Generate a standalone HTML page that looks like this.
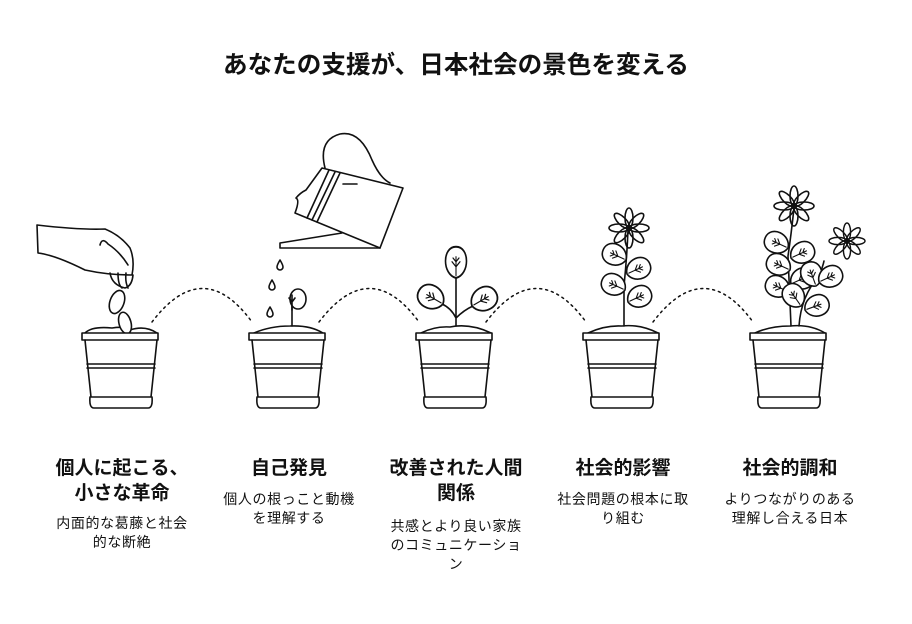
<!DOCTYPE html>
<html><head><meta charset="utf-8"><style>
body{margin:0;background:#fff;width:912px;height:624px;overflow:hidden;position:relative;font-family:"Liberation Sans","Noto Sans CJK JP",sans-serif;color:#111}
.t{position:absolute;width:200px;text-align:center;white-space:nowrap}
.h{font-weight:bold;font-size:19px;line-height:25px}
.d{font-size:14px;letter-spacing:0.6px;line-height:19px}
</style></head><body>
<div class="t" style="left:156px;width:600px;top:50px;font-size:24.6px;font-weight:bold;line-height:32px">あなたの支援が、日本社会の景色を変える</div>
<svg width="912" height="624" style="position:absolute;left:0;top:0" fill="none" stroke="#111" stroke-width="1.6" stroke-linejoin="round" stroke-linecap="round">
<defs>
<g id="pot">
<path d="M-40 333 H36 V340 H-40 Z" fill="#fff"/>
<path d="M-37 340 L-31 397 H29 L35 340"/>
<path d="M-35 364 H33 M-35 368 H33"/>
<path d="M-32 397 Q-33 408 -28 408 H26 Q31 408 30 397"/>
</g>
<g id="leaf"><path d="M0 0 C-14 -3 -14 -25 0 -25 C14 -25 14 -3 0 0 Z" fill="#fff"/><path d="M0 -2 V-17 M0 -9 L-4 -13 M0 -9 L4 -13 M0 -13 L-3 -16 M0 -13 L3 -16" stroke-width="1.1"/></g>
<g id="flower"><g id="pt"><ellipse cx="0" cy="-10" rx="4" ry="10"/></g>
<use href="#pt" transform="rotate(45)"/><use href="#pt" transform="rotate(90)"/><use href="#pt" transform="rotate(135)"/><use href="#pt" transform="rotate(180)"/><use href="#pt" transform="rotate(225)"/><use href="#pt" transform="rotate(270)"/><use href="#pt" transform="rotate(315)"/><circle r="2"/></g>
</defs>
<g stroke-dasharray="2 4" stroke-width="1.5">
<path d="M152 322 Q203 255 252 322"/><path d="M319 322 Q370 255 419 322"/><path d="M486 322 Q537 255 586 322"/><path d="M653 322 Q704 255 753 322"/>
</g>
<!-- pot1 -->
<path d="M85 333 Q92 326 112 328 Q125 326 130 330 Q145 325 157 333" />
<ellipse cx="125" cy="323" rx="6" ry="11" transform="rotate(-15 125 323)" fill="#fff"/>
<ellipse cx="117" cy="302" rx="7" ry="12" transform="rotate(20 117 302)"/>
<path d="M37 225 L38 253 Q55 255 85 270 Q108 275 132 275 Q135 260 130 248 Q120 235 105 229 Q80 230 37 225 Z" fill="#fff"/>
<path d="M100 245 Q102 237 108 244 Q120 252 128 265"/>
<path d="M110 273 Q112 285 125 288 Q132 286 133 275 M118 273 Q118 285 122 288 M126 273 Q125 282 128 288"/>
<use href="#pot" x="122"/>
<!-- pot2 -->
<path d="M254 333 Q270 326 290 326 Q310 325 323 333"/>
<path d="M292 326 V300"/>
<ellipse cx="298" cy="299" rx="8" ry="10" fill="#fff"/>
<path d="M292 310 V295 M292 302 L289 298 M292 302 L295 298"/>
<path d="M280 260 q-3 5 -3 7 a3 3 0 0 0 6 0 q0 -2 -3 -7Z M272 280 q-3 5 -3 7 a3 3 0 0 0 6 0 q0 -2 -3 -7Z M270 307 q-3 5 -3 7 a3 3 0 0 0 6 0 q0 -2 -3 -7Z"/>
<use href="#pot" x="289"/>
<!-- watering can -->
<path d="M325 168 Q318 140 340 134 Q360 130 372 160 Q380 178 390 183"/>
<path d="M322 168 L403 188 L380 248 L295 213 Q300 200 296 198 Q300 193 306 190 Z" fill="#fff"/>
<path d="M329 170 L307 218 M335 172 L312 220 M340 173 L317 222 M343 184 H357"/>
<path d="M342 233 L280 243 L280 248 L380 248"/>
<!-- pot3 -->
<path d="M421 333 Q435 326 450 327 Q470 323 491 333"/>
<g transform="translate(456,326)"><path d="M0 0 V-50 M0 -8 Q-5 -18 -14 -22 M0 -8 Q8 -16 17 -20"/>
<use href="#leaf" transform="translate(0,-48) scale(1,1.25)"/>
<use href="#leaf" transform="translate(-13,-22) rotate(-60) scale(1.1)"/>
<use href="#leaf" transform="translate(16,-20) rotate(60) scale(1.1)"/></g>
<use href="#pot" x="456"/>
<!-- pot4 -->
<path d="M588 333 Q605 325 622 326 Q640 324 658 333"/>
<g transform="translate(624,326)"><path d="M0 0 V-40 Q3 -70 4 -96"/>
<use href="#leaf" transform="translate(4,-24) rotate(65)"/>
<use href="#leaf" transform="translate(1,-36) rotate(-65)"/>
<use href="#leaf" transform="translate(3,-52) rotate(65)"/>
<use href="#leaf" transform="translate(2,-66) rotate(-65)"/>
<use href="#flower" transform="translate(5,-98)"/></g>
<use href="#pot" x="623"/>
<!-- pot5 -->
<path d="M755 333 Q770 326 790 326 Q810 324 825 333"/>
<g transform="translate(791,326)"><path d="M0 0 Q-2 -50 -3 -70 Q0 -90 3 -118 M8 0 Q10 -30 28 -50 Q32 -60 33 -65"/>
<use href="#leaf" transform="translate(-2,-34) rotate(-65)"/>
<use href="#leaf" transform="translate(-1,-56) rotate(-65)"/>
<use href="#leaf" transform="translate(-3,-78) rotate(-65)"/>
<use href="#leaf" transform="translate(0,-68) rotate(65)"/>
<use href="#leaf" transform="translate(0,-42) rotate(65)"/>
<use href="#leaf" transform="translate(10,-20) rotate(-35)"/>
<use href="#leaf" transform="translate(14,-16) rotate(70)"/>
<use href="#leaf" transform="translate(25,-40) rotate(-20)"/>
<use href="#leaf" transform="translate(28,-44) rotate(65)"/>
<use href="#flower" transform="translate(3,-120)"/>
<use href="#flower" transform="translate(56,-85) scale(0.9)"/></g>
<use href="#pot" x="790"/>
</svg>
<div class="t h" style="left:22px;top:456px">個人に起こる、<br>小さな革命</div>
<div class="t d" style="left:22px;top:514px">内面的な葛藤と社会<br>的な断絶</div>
<div class="t h" style="left:189px;top:456px">自己発見</div>
<div class="t d" style="left:189px;top:490px">個人の根っこと動機<br>を理解する</div>
<div class="t h" style="left:356px;top:456px">改善された人間<br>関係</div>
<div class="t d" style="left:356px;top:517px">共感とより良い家族<br>のコミュニケーショ<br>ン</div>
<div class="t h" style="left:523px;top:456px">社会的影響</div>
<div class="t d" style="left:523px;top:490px">社会問題の根本に取<br>り組む</div>
<div class="t h" style="left:690px;top:456px">社会的調和</div>
<div class="t d" style="left:690px;top:490px">よりつながりのある<br>理解し合える日本</div>
</body></html>
